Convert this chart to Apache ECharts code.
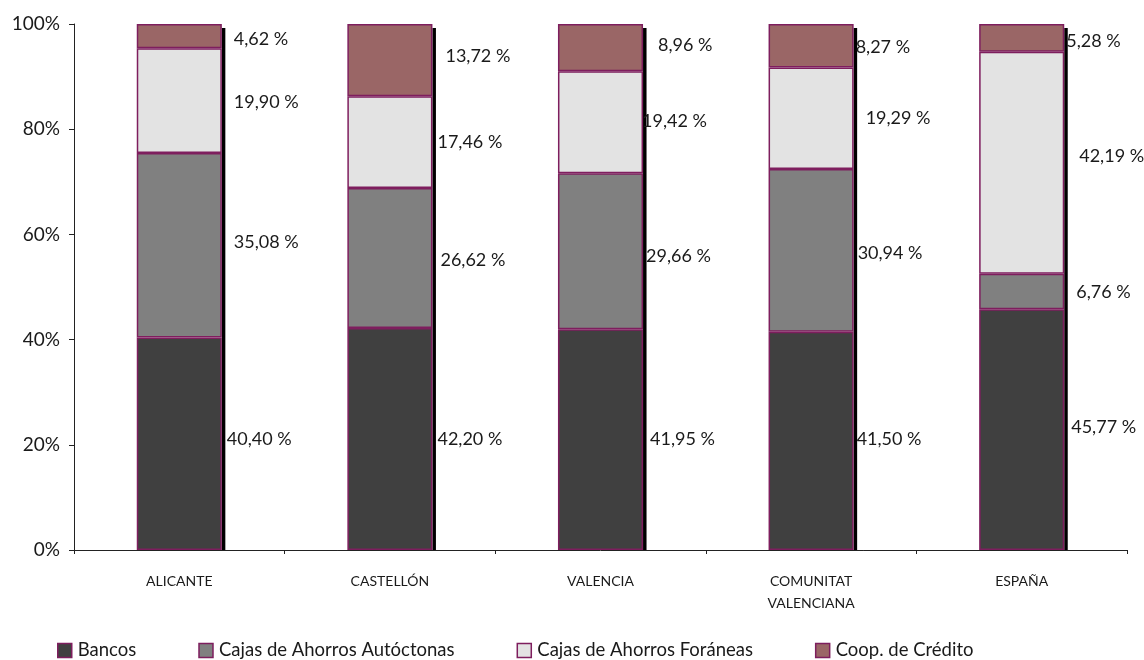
<!DOCTYPE html>
<html>
<head>
<meta charset="utf-8">
<script src="https://cdn.jsdelivr.net/npm/echarts@6/dist/echarts.min.js"></script>
<style>
html,body{margin:0;padding:0;background:#fff;}
#chart{width:1144px;height:660px;}
</style>
</head>
<body>
<div id="chart"></div>
<script>
// ---- data ----
var categories = ['ALICANTE', 'CASTELLÓN', 'VALENCIA', 'COMUNITAT\nVALENCIANA', 'ESPAÑA'];
var seriesNames = ['Bancos', 'Cajas de Ahorros Autóctonas', 'Cajas de Ahorros Foráneas', 'Coop. de Crédito'];
var bancos      = [40.40, 42.20, 41.95, 41.50, 45.77];
var autoctonas  = [35.08, 26.62, 29.66, 30.94, 6.76];
var foraneas    = [19.90, 17.46, 19.42, 19.29, 42.19];
var coop        = [4.62, 13.72, 8.96, 8.27, 5.28];
var yTicks = [0, 20, 40, 60, 80, 100];

// ---- layout (label nudges, px) ----
var labelDx = [
  [5, 5, 7, 3, 7],
  [12, 8, 3, 4, 12],
  [12, 5, -1, 12, 15],
  [12, 13, 15, 2, 2]
];
var labelDy = [
  [-5, 0, 0, -2, -2],
  [-3, 2, 5, 3, 1],
  [2, 0, -1, 0, -7],
  [3, -4, -2, 1, 3]
];

var colors = ['#404040', '#808080', '#E3E3E3', '#9A6666'];
var allValues = [bancos, autoctonas, foraneas, coop];
var FONT = 'Lato';
var BAR_RATIO = 0.404;

function fmt(v) { return v.toFixed(2).replace('.', ',') + ' %'; }

var totals = categories.map(function (c, i) {
  return [i, bancos[i] + autoctonas[i] + foraneas[i] + coop[i]];
});

var series = allValues.map(function (vals, si) {
  return {
    name: seriesNames[si],
    type: 'bar',
    stack: 'total',
    barWidth: (BAR_RATIO * 100) + '%',
    z: 3,
    itemStyle: {
      color: colors[si],
      borderColor: '#7E1E5E',
      borderWidth: 1.5
    },
    emphasis: { disabled: true },
    data: vals.map(function (v, ci) {
      return {
        value: v,
        label: { offset: [labelDx[si][ci], labelDy[si][ci]] }
      };
    }),
    label: {
      show: true,
      position: 'right',
      distance: 0,
      color: '#1a1a1a',
      fontFamily: FONT,
      fontSize: 18,
      formatter: function (p) { return fmt(p.value); }
    }
  };
});

// black side strip (drop shadow on the right of each stacked bar)
series.unshift({
  type: 'custom',
  name: 'shadow',
  z: 2,
  silent: true,
  data: totals,
  renderItem: function (params, api) {
    var top = api.coord([api.value(0), api.value(1)]);
    var bottom = api.coord([api.value(0), 0]);
    var bw = api.size([1, 0])[0] * BAR_RATIO;
    return {
      type: 'rect',
      shape: { x: top[0] + bw / 2, y: top[1] + 4, width: 3.5, height: bottom[1] - top[1] - 4 },
      style: { fill: '#000' }
    };
  }
});

var chart = echarts.init(document.getElementById('chart'), null, { renderer: 'canvas' });
chart.setOption({
  animation: false,
  backgroundColor: '#fff',
  color: colors,
  grid: { left: 74, right: 17, top: 24, bottom: 110, containLabel: false },
  legend: {
    left: 52,
    top: 636,
    itemWidth: 14,
    itemHeight: 14,
    itemGap: 62,
    icon: 'rect',
    textStyle: { fontFamily: FONT, fontSize: 18.5, color: '#1a1a1a', padding: [0, 0, 0, 1] },
    itemStyle: { borderColor: '#7E1E5E', borderWidth: 1.5 },
    data: seriesNames
  },
  xAxis: {
    type: 'category',
    data: categories,
    axisLine: { lineStyle: { color: '#222', width: 1 } },
    axisTick: { show: true, length: 4, lineStyle: { color: '#222' } },
    axisLabel: { fontFamily: FONT, fontSize: 14, color: '#1a1a1a', margin: 20, lineHeight: 22, interval: 0 }
  },
  yAxis: {
    type: 'value',
    min: yTicks[0],
    max: yTicks[yTicks.length - 1],
    interval: 20,
    splitLine: { show: false },
    axisLine: { show: true, lineStyle: { color: '#222', width: 1 } },
    axisTick: { show: true, length: 5, lineStyle: { color: '#222' } },
    axisLabel: { fontFamily: FONT, fontSize: 19, color: '#1a1a1a', margin: 14, formatter: '{value}%' }
  },
  series: series
});
</script>
</body>
</html>
